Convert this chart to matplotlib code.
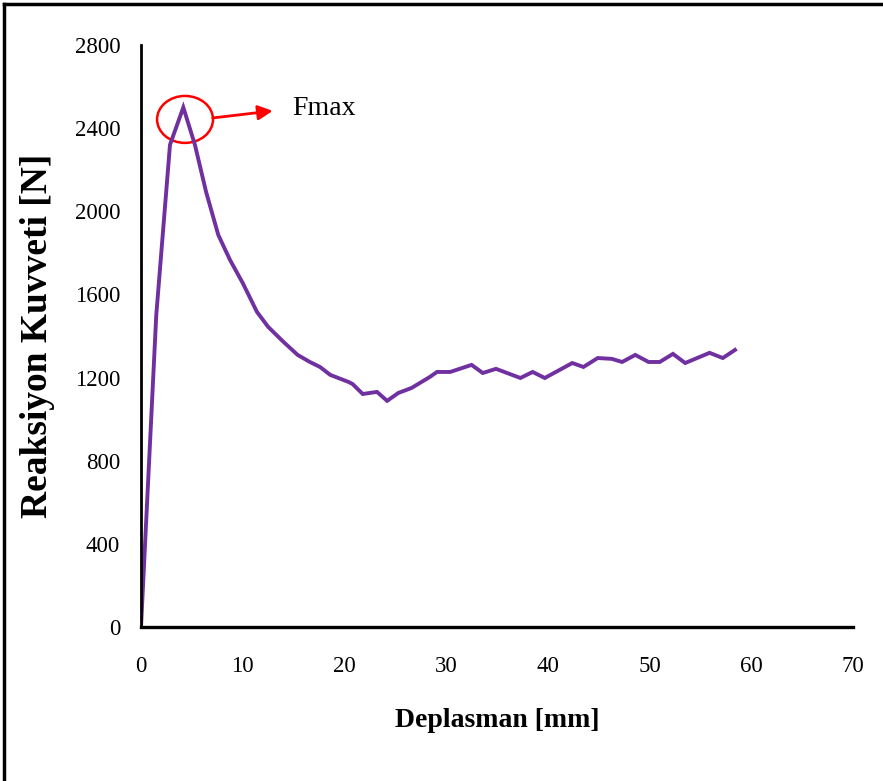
import matplotlib
matplotlib.use("Agg")
import matplotlib.pyplot as plt
from matplotlib.patches import Ellipse
from matplotlib.lines import Line2D

# Data
deplasman = [0, 1.5, 2.85, 4.16, 5.3, 6.4, 7.6, 8.75, 10.0, 11.4, 12.5, 14.0, 15.4,
             16.6, 17.6, 18.6, 20.4, 20.8, 21.8, 23.2, 24.2, 25.3, 26.6, 28.4, 29.1,
             30.4, 32.5, 33.6, 34.9, 37.3, 38.5, 39.7, 42.4, 43.5, 44.9, 46.3, 47.3,
             48.6, 49.9, 51.0, 52.3, 53.5, 55.9, 57.2, 58.4]
kuvvet = [0, 1500, 2320, 2500, 2320, 2093, 1886, 1766, 1655, 1516, 1444, 1372, 1309,
          1275, 1251, 1213, 1179, 1169, 1121, 1131, 1088, 1126, 1150, 1203, 1227,
          1227, 1261, 1222, 1242, 1198, 1227, 1198, 1270, 1251, 1294, 1290, 1275,
          1309, 1275, 1275, 1314, 1270, 1319, 1294, 1333]
x_ticks = [0, 10, 20, 30, 40, 50, 60, 70]
y_ticks = [0, 400, 800, 1200, 1600, 2000, 2400, 2800]

plt.rcParams['font.family'] = ['Liberation Serif', 'DejaVu Serif']

fig = plt.figure(figsize=(8.83, 7.81), dpi=100)
ax = fig.add_axes([141/883, 1-627/781, (853-141)/883, (627-45)/781])

ax.plot(deplasman, kuvvet, color='#7030A0', lw=2.8, solid_joinstyle='miter')

ax.set_xlim(0, 70)
ax.set_ylim(0, 2800)
ax.set_xticks(x_ticks)
ax.set_yticks(y_ticks)
ax.tick_params(axis='both', length=0, labelsize=16.5)
ax.tick_params(axis='x', pad=21)
ax.tick_params(axis='y', pad=15)
for s in ['top', 'right']:
    ax.spines[s].set_visible(False)
ax.spines['left'].set_linewidth(2)
ax.spines['bottom'].set_linewidth(2.4)

ax.set_xlabel('Deplasman [mm]', fontsize=20, fontweight='bold', labelpad=22)
ax.set_ylabel('Reaksiyon Kuvveti [N]', fontsize=27, fontweight='bold', labelpad=14)

# Fmax annotation
ax.add_patch(Ellipse((4.33, 2442), 5.5, 226, fill=False, edgecolor='red', lw=1.8, clip_on=False))
ax.annotate('', xy=(12.95, 2483), xytext=(7.05, 2449),
            arrowprops=dict(arrowstyle='-|>', color='red', lw=2, mutation_scale=22,
                            shrinkA=0, shrinkB=0))
ax.text(14.85, 2495, 'Fmax', fontsize=20, va='center', ha='left')

# Outer frame (top and left)
fig.add_artist(Line2D([4/883, 1], [1-4/781, 1-4/781], color='black', lw=2.5, transform=fig.transFigure))
fig.add_artist(Line2D([4/883, 4/883], [0, 1-4/781], color='black', lw=2.5, transform=fig.transFigure))

fig.savefig('out.png', dpi=100)
